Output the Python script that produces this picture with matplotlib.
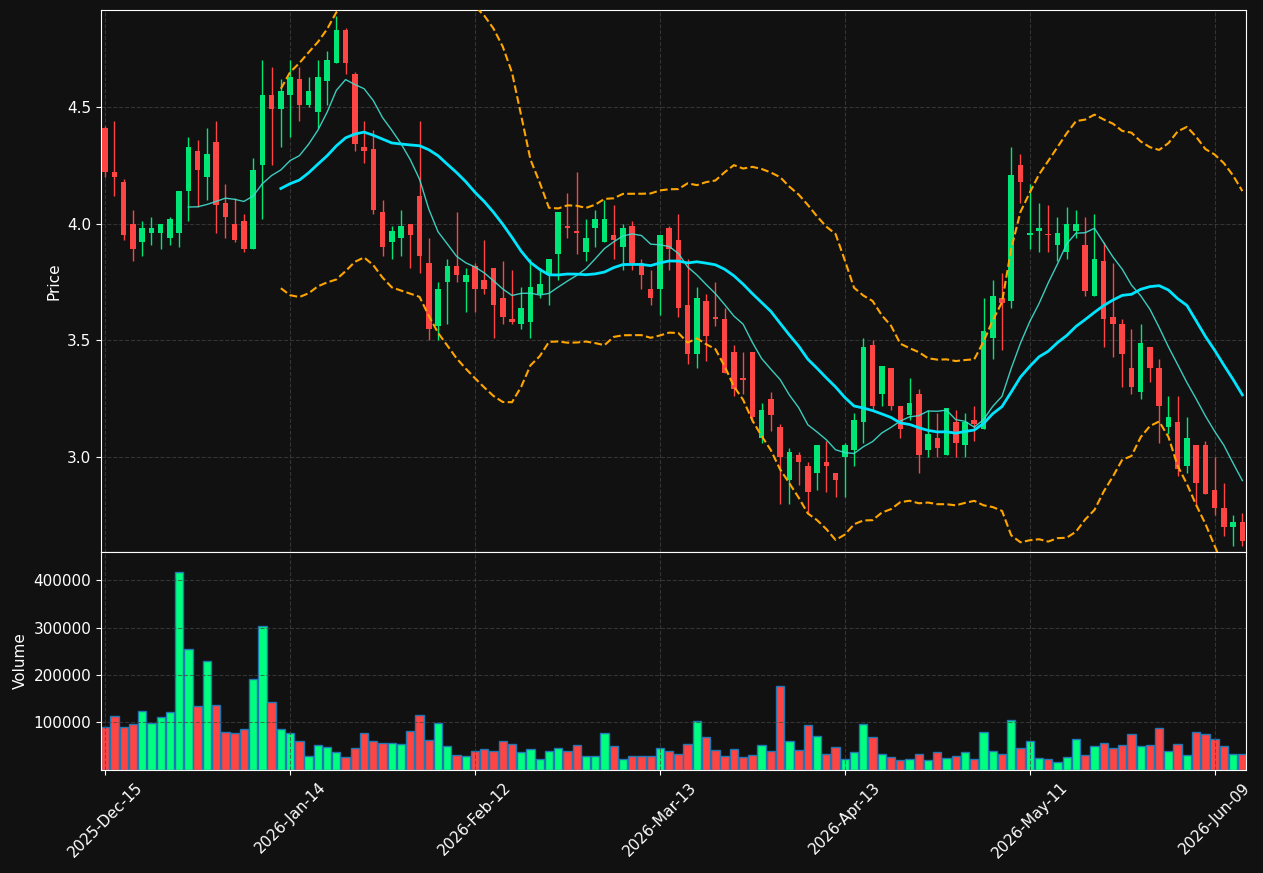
import matplotlib
matplotlib.use("Agg")
import matplotlib.pyplot as plt
import numpy as np
import pandas as pd

holidays = ["2025-12-25", "2026-01-01", "2026-01-19", "2026-02-16", "2026-04-03", "2026-05-25"]
dates = pd.date_range("2025-12-15", periods=124, freq=pd.offsets.CustomBusinessDay(holidays=holidays))

opens = [4.41,4.22,4.18,4.00,3.92,3.96,3.96,3.94,3.96,4.14,4.31,4.20,4.35,4.09,4.00,4.01,3.89,4.25,4.55,4.49,
         4.55,4.62,4.51,4.48,4.61,4.69,4.83,4.64,4.33,4.32,4.05,3.92,3.94,4.00,4.12,3.83,3.56,3.75,3.82,3.75,
         3.82,3.76,3.81,3.68,3.59,3.57,3.58,3.70,3.78,3.87,3.99,3.97,3.88,3.98,3.92,3.95,3.90,3.99,3.83,3.72,
         3.72,3.98,3.93,3.65,3.44,3.67,3.60,3.59,3.45,3.34,3.45,3.08,3.25,3.13,2.90,3.01,2.96,2.93,2.98,2.93,
         3.00,3.03,3.15,3.48,3.27,3.38,3.22,3.18,3.27,3.03,3.08,3.01,3.15,3.05,3.16,3.12,3.51,3.68,3.67,4.25,
         3.95,3.97,3.955,3.91,3.88,3.97,3.91,3.69,3.84,3.60,3.57,3.38,3.28,3.47,3.38,3.13,3.15,2.96,3.05,3.05,
         2.86,2.78,2.70,2.72]
closes = [4.22,4.20,3.95,3.89,3.98,3.98,4.00,4.02,4.14,4.33,4.23,4.30,4.08,4.03,3.93,3.89,4.23,4.55,4.49,4.57,
          4.63,4.51,4.57,4.63,4.70,4.83,4.69,4.34,4.31,4.06,3.90,3.97,3.99,3.95,3.86,3.55,3.72,3.82,3.78,3.78,
          3.72,3.72,3.65,3.60,3.58,3.64,3.73,3.74,3.85,4.05,3.98,3.96,3.94,4.02,4.02,3.93,3.98,3.83,3.78,3.68,
          3.95,3.89,3.64,3.44,3.68,3.52,3.59,3.36,3.29,3.33,3.17,3.20,3.18,3.00,3.02,2.98,2.85,3.05,2.96,2.90,
          3.05,3.16,3.47,3.22,3.39,3.22,3.12,3.23,3.01,3.10,3.04,3.21,3.06,3.15,3.14,3.54,3.69,3.66,4.21,4.18,
          3.96,3.98,3.95,3.96,4.00,4.00,3.71,3.85,3.59,3.57,3.44,3.30,3.49,3.38,3.22,3.17,2.95,3.08,2.89,2.84,
          2.78,2.70,2.72,2.64]
highs = [4.42,4.44,4.19,4.06,4.01,4.03,4.00,4.03,4.14,4.37,4.36,4.41,4.44,4.17,4.11,4.04,4.28,4.70,4.67,4.62,
         4.70,4.67,4.63,4.70,4.74,4.89,4.84,4.65,4.44,4.40,4.10,3.99,4.06,4.00,4.44,3.94,3.75,3.85,4.05,3.81,
         3.83,3.93,3.81,3.84,3.80,3.73,3.85,3.81,3.85,4.05,4.13,4.22,4.02,4.06,4.10,4.08,4.00,4.01,3.85,3.80,
         3.94,3.99,4.04,3.85,3.73,3.70,3.75,3.64,3.48,3.45,3.45,3.23,3.28,3.14,3.04,3.02,2.98,3.05,3.07,2.93,
         3.06,3.19,3.51,3.50,3.39,3.38,3.22,3.34,3.29,3.20,3.19,3.21,3.20,3.19,3.22,3.68,3.76,3.79,4.33,4.30,
         4.17,4.09,4.08,4.03,4.07,4.06,4.03,4.04,3.92,3.83,3.59,3.55,3.57,3.47,3.42,3.26,3.26,3.17,3.05,3.07,
         3.00,2.89,2.75,2.76]
lows = [4.20,4.12,3.93,3.84,3.86,3.91,3.89,3.91,3.90,4.01,4.07,4.10,3.96,3.94,3.92,3.88,3.89,4.02,4.25,4.33,
        4.37,4.44,4.50,4.41,4.51,4.69,4.64,4.31,4.26,4.04,3.86,3.85,3.86,3.81,3.79,3.50,3.50,3.57,3.75,3.62,
        3.62,3.70,3.51,3.57,3.57,3.55,3.51,3.68,3.65,3.76,3.94,3.87,3.84,3.90,3.92,3.85,3.80,3.80,3.72,3.65,
        3.61,3.80,3.60,3.40,3.38,3.41,3.56,3.36,3.26,3.27,3.15,3.06,3.11,2.80,2.80,2.88,2.76,2.86,2.85,2.83,
        2.83,2.96,3.06,3.20,3.22,3.20,3.08,3.16,2.93,3.00,3.00,3.01,3.00,3.00,3.07,3.12,3.42,3.46,3.64,4.09,
        3.89,3.88,3.88,3.84,3.85,3.94,3.69,3.69,3.47,3.43,3.30,3.27,3.25,3.32,3.06,3.10,2.92,2.93,2.79,2.84,
        2.75,2.66,2.62,2.62]
volumes = [91,114,91,96,125,98,112,123,416,255,135,229,137,81,78,87,192,303,143,87,
           78,62,29,53,49,37,27,47,78,60,57,57,55,83,116,64,99,51,32,30,
           39,45,41,60,55,37,45,24,41,47,41,53,30,30,78,51,24,30,30,30,
           47,41,34,55,104,70,43,30,45,28,32,53,41,177,62,43,95,72,34,49,
           24,37,97,70,34,28,22,24,34,20,37,26,30,37,24,81,39,34,106,47,
           60,26,24,16,28,66,32,51,57,47,53,76,51,53,89,39,55,32,81,76,
           66,51,34,34]
volumes = [v * 1000 for v in volumes]

BG = "#111111"
UP = "#00E676"
DOWN = "#FF4444"
VUP = "#00FF7F"

plt.rcParams["font.family"] = ["DejaVu Sans"]
fig = plt.figure(figsize=(12.63, 8.73), dpi=100, facecolor=BG)
ax = fig.add_axes([0.080, 0.3677, 0.9066, 0.6208])
axv = fig.add_axes([0.080, 0.118, 0.9066, 0.2497], sharex=ax)

x = np.arange(len(closes))
o = np.array(opens); c = np.array(closes); h = np.array(highs); l = np.array(lows)
up = c >= o
cols = np.where(up, UP, DOWN)
ax.vlines(x, l, h, colors=cols, linewidth=1, zorder=2)
ax.bar(x, np.abs(c - o), bottom=np.minimum(o, c), width=0.6, color=cols, zorder=3)

s = pd.Series(c)
ma10 = s.rolling(10).mean()
ma20 = s.rolling(20).mean()
sd = s.rolling(20).std()
ax.plot(x, ma10, color="#40E0D0", linewidth=1, alpha=0.9, zorder=4)
ax.plot(x, ma20, color="#00E5FF", linewidth=2, zorder=4)
ax.plot(x, ma20 + 2 * sd, color="orange", linestyle="--", linewidth=1.5, zorder=4)
ax.plot(x, ma20 - 2 * sd, color="orange", linestyle="--", linewidth=1.5, zorder=4)

vcols = np.where(up, VUP, DOWN)
axv.bar(x, volumes, width=0.9, color=vcols, edgecolor="#1f77b4", linewidth=1)

for a in (ax, axv):
    a.set_facecolor(BG)
    a.grid(True, linestyle="--", color="#444444", alpha=0.7)
    a.tick_params(colors="white", labelsize=11)
    for sp in a.spines.values():
        sp.set_color("white")
ax.set_ylim(2.593, 4.915)
ax.set_yticks([3.0, 3.5, 4.0, 4.5])
ax.set_ylabel("Price", color="white", fontsize=11)
axv.set_ylim(0, 459000)
axv.set_yticks([100000, 200000, 300000, 400000])
axv.set_ylabel("Volume", color="white", fontsize=11)
ax.set_xlim(-0.45, 123.4)
ticks = list(range(0, 124, 20))
axv.set_xticks(ticks)
axv.set_xticklabels([dates[i].strftime("%Y-%b-%d") for i in ticks], rotation=45)
plt.setp(ax.get_xticklabels(), visible=False)
ax.tick_params(axis="x", length=0)

fig.savefig("out.png", dpi=100, facecolor=BG)
